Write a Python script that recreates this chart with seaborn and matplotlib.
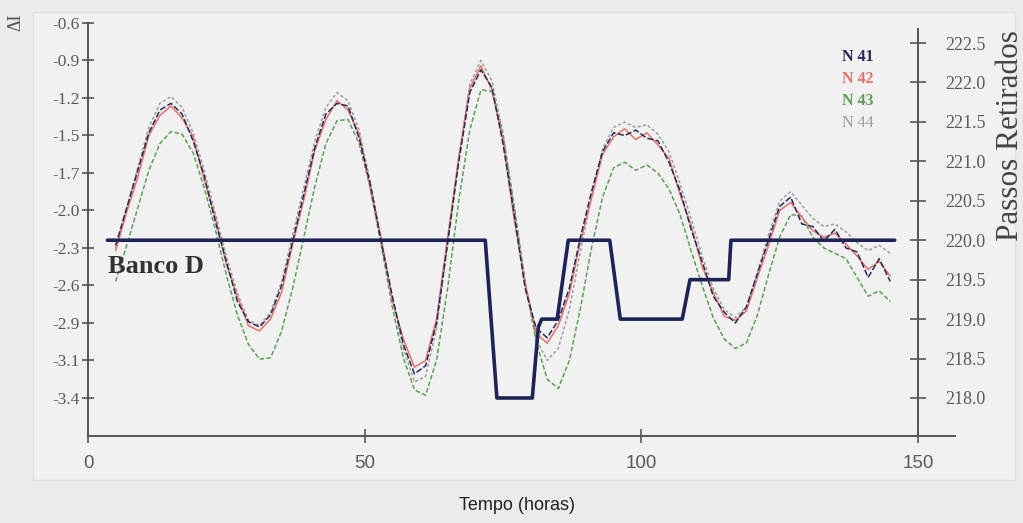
import matplotlib
matplotlib.use("Agg")
import matplotlib.pyplot as plt
from matplotlib.patches import Rectangle
import seaborn as sns
import pandas as pd

# ---- data ----
hours = list(range(5, 147, 2))

n41 = [-2.28, -2.00, -1.72, -1.44, -1.27, -1.22, -1.30, -1.50, -1.76, -2.10,
       -2.40, -2.70, -2.85, -2.89, -2.80, -2.58, -2.25, -1.90, -1.55, -1.30,
       -1.22, -1.24, -1.48, -1.82, -2.26, -2.66, -3.02, -3.24, -3.18, -2.86,
       -2.26, -1.66, -1.14, -0.97, -1.10, -1.52, -2.04, -2.60, -2.90, -2.97,
       -2.84, -2.60, -2.22, -1.88, -1.58, -1.44, -1.46, -1.42, -1.48, -1.50,
       -1.66, -1.87, -2.16, -2.40, -2.66, -2.78, -2.86, -2.74, -2.49, -2.24,
       -1.99, -1.92, -2.12, -2.14, -2.25, -2.16, -2.30, -2.33, -2.52, -2.38,
       -2.55]
n42 = [-2.32, -2.03, -1.77, -1.46, -1.31, -1.24, -1.33, -1.47, -1.79, -2.07,
       -2.42, -2.66, -2.88, -2.92, -2.83, -2.63, -2.27, -1.94, -1.57, -1.34,
       -1.20, -1.27, -1.45, -1.85, -2.23, -2.69, -2.98, -3.19, -3.14, -2.83,
       -2.22, -1.63, -1.11, -0.94, -1.12, -1.49, -2.08, -2.56, -2.94, -3.01,
       -2.88, -2.64, -2.25, -1.93, -1.60, -1.47, -1.41, -1.49, -1.44, -1.53,
       -1.63, -1.90, -2.13, -2.44, -2.63, -2.81, -2.84, -2.77, -2.52, -2.28,
       -2.02, -1.96, -2.07, -2.17, -2.22, -2.19, -2.27, -2.36, -2.46, -2.40,
       -2.51]
n43 = [-2.55, -2.28, -2.00, -1.72, -1.52, -1.43, -1.45, -1.59, -1.85, -2.16,
       -2.50, -2.80, -3.02, -3.13, -3.12, -2.92, -2.60, -2.22, -1.84, -1.52,
       -1.35, -1.34, -1.52, -1.85, -2.28, -2.74, -3.12, -3.36, -3.40, -3.14,
       -2.60, -1.95, -1.42, -1.12, -1.13, -1.45, -1.98, -2.55, -3.00, -3.28,
       -3.35, -3.14, -2.75, -2.30, -1.92, -1.70, -1.66, -1.72, -1.68, -1.74,
       -1.86, -2.05, -2.32, -2.58, -2.82, -2.98, -3.05, -3.01, -2.80, -2.50,
       -2.22, -2.05, -2.06, -2.22, -2.30, -2.34, -2.38, -2.52, -2.66, -2.62,
       -2.70]
n44 = [-2.30, -2.00, -1.70, -1.40, -1.22, -1.17, -1.25, -1.44, -1.72, -2.04,
       -2.36, -2.64, -2.84, -2.88, -2.78, -2.55, -2.20, -1.85, -1.50, -1.25,
       -1.14, -1.20, -1.42, -1.80, -2.22, -2.68, -3.05, -3.30, -3.26, -2.90,
       -2.28, -1.62, -1.08, -0.90, -1.05, -1.44, -2.00, -2.58, -2.98, -3.14,
       -3.05, -2.76, -2.32, -1.92, -1.56, -1.40, -1.36, -1.40, -1.38, -1.45,
       -1.58, -1.82, -2.08, -2.36, -2.60, -2.76, -2.82, -2.74, -2.48, -2.20,
       -1.95, -1.88, -1.98, -2.08, -2.14, -2.12, -2.18, -2.26, -2.32, -2.28,
       -2.34]

rod_hours = [3.5, 71.8, 73.9, 80.3, 81.4, 82.0, 84.8, 86.8, 94.3, 96.2,
             107.4, 108.8, 115.8, 116.2, 145.8]
rod_steps = [220.0, 220.0, 218.0, 218.0, 218.9, 219.0, 219.0, 220.0, 220.0, 219.0,
             219.0, 219.5, 219.5, 220.0, 220.0]

detectors = ["N 44", "N 43", "N 42", "N 41"]
colors = {"N 41": "#262b55", "N 42": "#e5706c", "N 43": "#5e9e56", "N 44": "#9c9c9c"}

left_ticks = [-0.62, -0.90, -1.18, -1.46, -1.74, -2.02, -2.30, -2.58, -2.86, -3.14, -3.42]
right_ticks = [218.0, 218.5, 219.0, 219.5, 220.0, 220.5, 221.0, 221.5, 222.0, 222.5]
x_ticks = [0, 50, 100, 150]

series = {"N 41": n41, "N 42": n42, "N 43": n43, "N 44": n44}
df = pd.concat([pd.DataFrame({"hours": hours, "delta_i": series[d], "detector": d})
                for d in detectors], ignore_index=True)

sns.set_theme(style="white")
plt.rcParams["font.family"] = ["Liberation Serif", "DejaVu Serif"]

W, H = 1023, 523
fig = plt.figure(figsize=(W / 100, H / 100), dpi=100, facecolor="#ebebeb")
fig.patches.append(Rectangle((33 / W, 1 - 480 / H), (1015 - 33) / W, (480 - 12) / H,
                             transform=fig.transFigure, facecolor="#f1f1f1",
                             edgecolor="#e0e0e0", lw=1, zorder=-5))

ax = fig.add_axes([88 / W, 1 - 436 / H, (955 - 88) / W, (436 - 23) / H])
ax.set_facecolor("none")

sns.lineplot(data=df, x="hours", y="delta_i", hue="detector", hue_order=detectors,
             palette=colors, style="detector", style_order=detectors,
             dashes={"N 41": (4, 1.5), "N 42": "", "N 43": (3, 1.5), "N 44": (2, 1.5)},
             estimator=None, linewidth=1.1, legend=False, ax=ax)

ax.set_xlim(0, 156.7)
ax.set_ylim(-3.704, -0.62)
ax.set_yticks(left_ticks)
ax.set_yticklabels([f"{v:.1f}" for v in left_ticks])
ax.set_xticks(x_ticks)
ax.set_xlabel("")
ax.set_ylabel("")

spine_c = "#555555"
for s in ["top", "right"]:
    ax.spines[s].set_visible(False)
for s in ["left", "bottom"]:
    ax.spines[s].set_color(spine_c)
    ax.spines[s].set_linewidth(1.4)
ax.tick_params(axis="y", direction="inout", length=8, width=1.2, color=spine_c,
               labelcolor="#5a5a5a", labelsize=12.5, pad=2, left=True)
ax.tick_params(axis="x", direction="inout", length=10, width=1.2, color=spine_c,
               labelcolor="#5a5a5a", labelsize=13.5, pad=9, bottom=True)
for lab in ax.get_xticklabels():
    lab.set_family(["Liberation Sans Narrow", "Liberation Sans"])

ax2 = ax.twinx()
ax2.set_facecolor("none")
sns.lineplot(x=rod_hours, y=rod_steps, color="#1e2556", linewidth=2.6,
             estimator=None, sort=False, ax=ax2)
ax2.set_ylim(217.518, 222.754)
ax2.set_yticks(right_ticks)
ax2.set_yticklabels([f"{v:.1f}" for v in right_ticks])
for s in ["top", "left", "bottom"]:
    ax2.spines[s].set_visible(False)
ax2.spines["right"].set_position(("data", 150))
ax2.spines["right"].set_bounds(217.518, 222.68)
ax2.spines["right"].set_color(spine_c)
ax2.spines["right"].set_linewidth(1.4)
ax2.tick_params(axis="y", direction="inout", length=12, width=1.2, color=spine_c,
                labelcolor="#5a5a5a", labelsize=13, pad=14, right=True)

ax.text(3.6, -2.44, "Banco D", fontsize=19, fontweight="bold", color="#333333",
        va="center", ha="left")

for i, d in enumerate(["N 41", "N 42", "N 43", "N 44"]):
    fig.text(842 / W, 1 - (57 + 22 * i) / H, d, color=colors[d], fontsize=11.5,
             fontweight="bold" if d != "N 44" else "normal", va="center", ha="left")

fig.text(16 / W, 1 - 22 / H, "ΔI", rotation=90, fontsize=13, color="#555555",
         va="center", ha="center")
fig.text(1010 / W, 1 - 136 / H, "Passos Retirados", rotation=90, fontsize=22.5,
         color="#444444", va="center", ha="center")
fig.text(517 / W, 1 - 505 / H, "Tempo (horas)", fontsize=13, color="#222222",
         family=["Liberation Sans Narrow", "Liberation Sans"], va="center", ha="center")

fig.savefig("out.png", dpi=100, facecolor=fig.get_facecolor())
